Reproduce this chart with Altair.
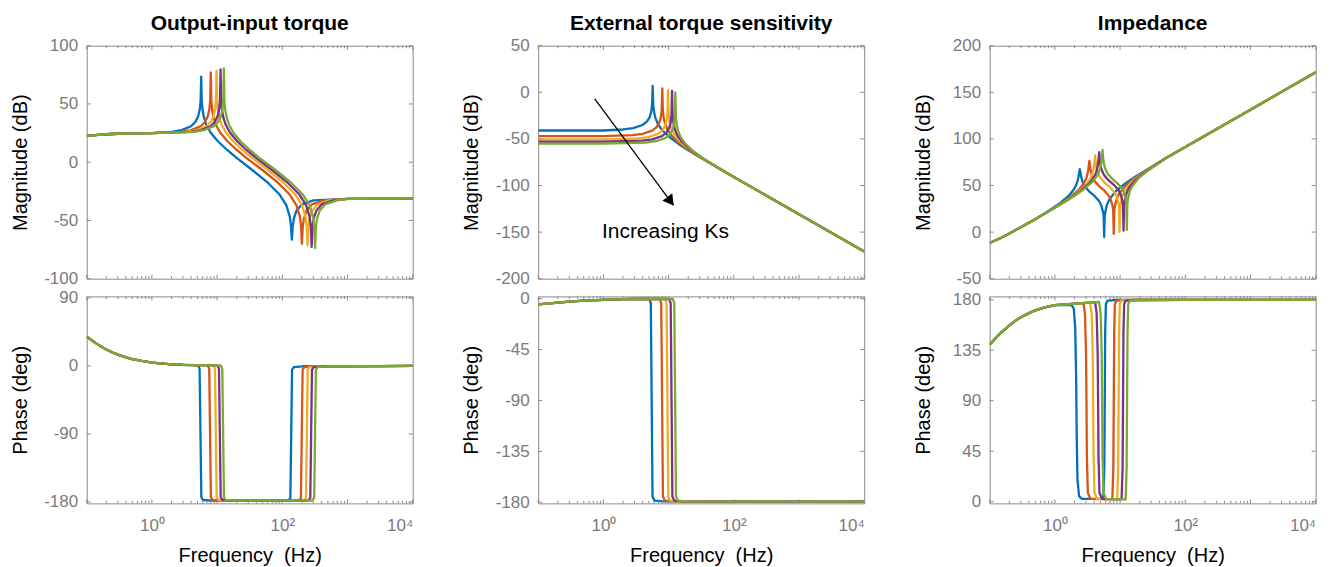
import altair as alt
import pandas as pd

FONT = "Liberation Sans"
FRAME = "#8a8a8a"
LABEL_GRAY = "#7a7a7a"
COLORS = ["#0072BD", "#D95319", "#EDB120", "#7E2F8E", "#77AC30"]
SERIES = ["s1", "s2", "s3", "s4", "s5"]
TITLES = ["Output-input torque", "External torque sensitivity", "Impedance"]
X_LABEL_VALUES = [1, 100, 10000]
X_MAJOR = [0.1, 1, 10, 100, 1000, 10000]
X_MINOR = [m * d for d in (0.1, 1, 10, 100, 1000) for m in range(2, 10)]

# ---------------- Output-input torque : magnitude (dB) ----------------
OI_MAG_LOW_F = [0.1, 0.15, 0.2, 0.3, 0.5, 1.0]
OI_MAG_LOW_DB = [22.6, 23.5, 24.0, 24.4, 24.8, 25.0]
OI_MAG_TAIL_F = [1000, 10000]
OI_MAG_TAIL_DB = [-31.5, -31.3]
OI_MAG_F_1 = [2.0, 2.85, 3.99, 4.67, 5.13, 5.42, 5.59, 5.7, 5.81, 5.99, 6.27, 6.84, 7.98, 10.26, 14.25, 19.95,
              35, 60, 90, 115, 130, 136, 140, 144, 150, 165, 200, 300]
OI_MAG_DB_1 = [26.1, 27.5, 30.9, 34.7, 39.4, 45.2, 53.0, 73.5, 52.9, 44.8, 38.6, 32.1, 25.3, 18.0, 10.5, 3.7,
               -6.9, -17.6, -27.5, -36.9, -46.5, -55.1, -66.5, -55.8, -48.4, -41.6, -36.2, -32.7]
OI_MAG_F_2 = [2.8, 4.0, 5.6, 6.56, 7.2, 7.6, 7.84, 8.0, 8.16, 8.4, 8.8, 9.6, 11.2, 14.4, 20.0, 28.0,
              50, 85.7, 128.6, 164.3, 185.7, 194.3, 200, 205.7, 214.3, 235.7, 285.7, 428.6]
OI_MAG_DB_2 = [26.1, 27.5, 30.9, 34.7, 39.4, 45.2, 53.0, 77.0, 52.9, 44.8, 38.6, 32.1, 25.3, 18.0, 10.5, 3.7,
               -6.9, -17.6, -27.5, -36.9, -46.5, -55.1, -70.0, -55.8, -48.4, -41.6, -36.2, -32.7]
OI_MAG_F_3 = [3.43, 4.9, 6.86, 8.04, 8.82, 9.31, 9.6, 9.8, 10.0, 10.29, 10.78, 11.76, 13.72, 17.64, 24.5, 34.3,
              61, 104.6, 156.9, 200.4, 226.6, 237, 244, 251, 261.4, 287.6, 348.6, 522.9]
OI_MAG_DB_3 = [26.1, 27.5, 30.9, 34.7, 39.4, 45.2, 53.0, 78.6, 52.9, 44.8, 38.6, 32.1, 25.3, 18.0, 10.5, 3.7,
               -6.9, -17.6, -27.5, -36.9, -46.5, -55.1, -71.4, -55.8, -48.4, -41.6, -36.2, -32.7]
OI_MAG_F_4 = [3.96, 5.65, 7.91, 9.27, 10.17, 10.74, 11.07, 11.3, 11.53, 11.87, 12.43, 13.56, 15.82, 20.34, 28.25, 39.55,
              70.5, 120.9, 181.3, 231.6, 261.9, 273.9, 282, 290.1, 302.1, 332.4, 402.9, 604.3]
OI_MAG_DB_4 = [26.1, 27.5, 30.9, 34.7, 39.4, 45.2, 53.0, 79.7, 52.9, 44.8, 38.6, 32.1, 25.3, 18.0, 10.5, 3.7,
               -6.9, -17.6, -27.5, -36.9, -46.5, -55.1, -72.8, -55.8, -48.4, -41.6, -36.2, -32.7]
OI_MAG_F_5 = [4.45, 6.35, 8.89, 10.41, 11.43, 12.07, 12.45, 12.7, 12.95, 13.34, 13.97, 15.24, 17.78, 22.86, 31.75, 44.45,
              79.5, 136.3, 204.4, 261.2, 295.3, 308.9, 318, 327.1, 340.7, 374.8, 454.3, 681.4]
OI_MAG_DB_5 = [26.1, 27.5, 30.9, 34.7, 39.4, 45.2, 53.0, 80.6, 52.9, 44.8, 38.6, 32.1, 25.3, 18.0, 10.5, 3.7,
               -6.9, -17.6, -27.5, -36.9, -46.5, -55.1, -73.7, -55.8, -48.4, -41.6, -36.2, -32.7]

# ---------------- Output-input torque : phase (deg) ----------------
OI_PH_LOW_F = [0.1, 0.12, 0.15, 0.2, 0.25, 0.3, 0.4, 0.5, 0.7, 1.0, 1.5, 2.0, 3.0]
OI_PH_LOW_DEG = [38.6, 33.7, 28.1, 21.8, 17.7, 14.9, 11.3, 9.1, 6.5, 4.4, 2.9, 2.1, 1.4]
OI_PH_TAIL_F = [3000, 10000]
OI_PH_TAIL_DEG = [-0.2, 0.0]
OI_PH_DEG = [0.6, -4, -90, -174, -177.5, -178.3, -178.3, -175, -90, -5, -1.5, -0.5]
OI_PH_F_1 = [5.12, 5.39, 5.56, 5.73, 6.12, 8.34, 123.3, 132.9, 137, 141.1, 150.7, 205.5]
OI_PH_F_2 = [7.18, 7.57, 7.8, 8.03, 8.58, 11.7, 179.1, 193, 199, 205, 218.9, 298.5]
OI_PH_F_3 = [8.8, 9.27, 9.56, 9.85, 10.52, 14.3, 214.2, 230.9, 238, 245.1, 261.8, 357]
OI_PH_F_4 = [10.14, 10.69, 11.02, 11.35, 12.12, 16.5, 249.3, 268.7, 277, 285.3, 304.7, 415.5]
OI_PH_F_5 = [11.39, 12.01, 12.38, 12.75, 13.62, 18.6, 286.2, 308.5, 318, 327.5, 349.8, 477]

# ---------------- External torque sensitivity : magnitude (dB) ----------------
ETS_MAG_TAIL_F = [100, 1000, 10000]
ETS_MAG_TAIL_DB = [-90.9, -130.9, -170.9]
ETS_MAG_F_1 = [0.1, 1.0, 2.0, 2.85, 3.99, 4.67, 5.13, 5.42, 5.59, 5.7, 5.81, 5.99, 6.27, 6.84, 7.98, 10.26, 14.25, 19.95, 28.5]
ETS_MAG_DB_1 = [-41, -41, -39.9, -38.5, -35.1, -31.3, -26.6, -20.8, -13.0, 6.8, -13.1, -21.2, -27.4, -33.9, -40.7, -48.0, -55.4, -62.1, -68.6]
ETS_MAG_F_2 = [0.1, 1.0, 2.8, 4.0, 5.6, 6.56, 7.2, 7.6, 7.84, 8.0, 8.16, 8.4, 8.8, 9.6, 11.2, 14.4, 20.0, 28.0, 40.0]
ETS_MAG_DB_2 = [-47, -47, -45.9, -44.5, -41.1, -37.3, -32.6, -26.8, -19.0, 4.3, -19.1, -27.2, -33.4, -39.9, -46.7, -54.0, -61.4, -68.1, -74.6]
ETS_MAG_F_3 = [0.1, 1.0, 3.43, 4.9, 6.86, 8.04, 8.82, 9.31, 9.6, 9.8, 10.0, 10.29, 10.78, 11.76, 13.72, 17.64, 24.5, 34.3, 49.0]
ETS_MAG_DB_3 = [-50.5, -50.5, -49.4, -48.0, -44.6, -40.8, -36.1, -30.3, -22.5, 2.5, -22.6, -30.7, -36.9, -43.4, -50.2, -57.5, -64.9, -71.6, -78.1]
ETS_MAG_F_4 = [0.1, 1.0, 3.96, 5.65, 7.91, 9.27, 10.17, 10.74, 11.07, 11.3, 11.53, 11.87, 12.43, 13.56, 15.82, 20.34, 28.25, 39.55, 56.5]
ETS_MAG_DB_4 = [-53, -53, -51.9, -50.5, -47.1, -43.3, -38.6, -32.8, -25.0, 1.5, -25.1, -33.2, -39.4, -45.9, -52.7, -60.0, -67.4, -74.1, -80.6]
ETS_MAG_F_5 = [0.1, 1.0, 4.45, 6.35, 8.89, 10.41, 11.43, 12.07, 12.45, 12.7, 12.95, 13.34, 13.97, 15.24, 17.78, 22.86, 31.75, 44.45, 63.5]
ETS_MAG_DB_5 = [-55, -55, -53.9, -52.5, -49.1, -45.3, -40.6, -34.8, -27.0, 0.0, -27.1, -35.2, -41.4, -47.9, -54.7, -62.0, -69.4, -76.1, -82.6]

# ---------------- External torque sensitivity : phase (deg) ----------------
ETS_PH_LOW_F = [0.1, 0.2, 0.3, 0.5, 1.0, 2.0, 3.0]
ETS_PH_LOW_DEG = [-5.0, -3.5, -2.7, -1.8, -1.0, -0.5, -0.3]
ETS_PH_TAIL_F = [10000]
ETS_PH_TAIL_DEG = [-179.5]
ETS_PH_DEG = [-0.2, -4, -90, -175, -178.5, -179.3]
ETS_PH_F_1 = [5.06, 5.34, 5.5, 5.67, 6.05, 8.25]
ETS_PH_F_2 = [7.31, 7.71, 7.95, 8.19, 8.75, 11.9]
ETS_PH_F_3 = [8.83, 9.31, 9.6, 9.89, 10.56, 14.4]
ETS_PH_F_4 = [10.21, 10.77, 11.1, 11.43, 12.21, 16.65]
ETS_PH_F_5 = [11.59, 12.22, 12.6, 12.98, 13.86, 18.9]

# ---------------- Impedance : magnitude (dB) ----------------
IMP_MAG_LOW_F = [0.1, 0.15, 0.2, 0.3, 0.5]
IMP_MAG_LOW_DB = [-11.7, -6.0, -1.5, 5.2, 13.9]
IMP_MAG_TAIL_F = [50, 100, 1000, 10000]
IMP_MAG_TAIL_DB = [79.2, 91.3, 131.4, 171.4]
IMP_MAG_F_1 = [0.723, 1.2, 1.687, 1.976, 2.169, 2.29, 2.362, 2.41, 2.458, 2.53, 2.651, 2.892, 3.374, 4.097, 4.82,
               5.13, 5.415, 5.586, 5.7, 5.814, 5.985, 6.27, 6.84, 8.55, 11.4, 17.1]
IMP_MAG_DB_1 = [20.8, 31.1, 40.0, 46.2, 52.2, 58.3, 64.3, 67.6, 64.5, 59.2, 54.1, 48.8, 43.5, 38.5, 32.7,
                28.8, 23.0, 17.9, -5.3, 17.7, 22.9, 29.0, 35.1, 43.7, 51.0, 59.3]
IMP_MAG_F_2 = [1.015, 1.684, 2.368, 2.773, 3.044, 3.214, 3.315, 3.382, 3.45, 3.551, 3.721, 4.059, 4.735, 5.75, 6.765,
               7.2, 7.6, 7.84, 8.0, 8.16, 8.4, 8.8, 9.6, 12.0, 16.0, 24.0]
IMP_MAG_DB_2 = [26.7, 37.0, 45.9, 52.1, 58.1, 64.5, 71.5, 76.5, 71.5, 65.4, 60.0, 54.7, 49.4, 44.4, 38.6,
                34.7, 28.9, 23.6, -2.0, 23.5, 28.8, 34.9, 41.0, 49.6, 56.9, 65.2]
IMP_MAG_F_3 = [1.243, 2.063, 2.9, 3.397, 3.729, 3.937, 4.061, 4.143, 4.226, 4.35, 4.558, 4.972, 5.801, 7.044, 8.287,
               8.82, 9.31, 9.6, 9.8, 10.0, 10.29, 10.78, 11.76, 14.7, 19.6, 29.4]
IMP_MAG_DB_3 = [30.2, 40.5, 49.4, 55.6, 61.6, 68.5, 75.5, 82.2, 75.5, 69.0, 63.5, 58.2, 52.9, 47.9, 42.1,
                38.2, 32.4, 27.0, 0.0, 27.0, 32.3, 38.4, 44.5, 53.1, 60.4, 68.7]
IMP_MAG_F_4 = [1.433, 2.379, 3.344, 3.917, 4.3, 4.54, 4.683, 4.778, 4.873, 5.016, 5.256, 5.733, 6.689, 8.122, 9.556,
               10.17, 10.74, 11.07, 11.3, 11.53, 11.87, 12.43, 13.56, 16.95, 22.6, 33.9]
IMP_MAG_DB_4 = [32.7, 43.0, 51.9, 58.1, 64.1, 71.0, 78.5, 85.7, 78.5, 71.5, 66.0, 60.7, 55.4, 50.4, 44.6,
                40.7, 34.9, 29.5, 1.5, 29.5, 34.8, 40.9, 47.0, 55.6, 62.9, 71.2]
IMP_MAG_F_5 = [1.611, 2.674, 3.759, 4.403, 4.833, 5.102, 5.263, 5.37, 5.477, 5.637, 5.907, 6.444, 7.518, 9.129, 10.74,
               11.43, 12.07, 12.45, 12.7, 12.95, 13.34, 13.97, 15.24, 19.05, 25.4, 38.1]
IMP_MAG_DB_5 = [34.7, 45.0, 53.9, 60.1, 66.1, 73.0, 80.5, 88.2, 80.5, 73.5, 68.0, 62.7, 57.4, 52.4, 46.6,
                42.7, 36.9, 31.5, 2.5, 31.5, 36.8, 42.9, 49.0, 57.6, 64.9, 73.2]

# ---------------- Impedance : phase (deg) ----------------
IMP_PH_LOW_F = [0.1, 0.12, 0.15, 0.2, 0.25, 0.3, 0.4, 0.5, 0.7, 1.0]
IMP_PH_LOW_DEG = [140, 145, 150.8, 157.2, 161.4, 164.4, 168.1, 170.5, 173.2, 175.2]
IMP_PH_TAIL_F = [100, 10000]
IMP_PH_TAIL_DEG = [179.9, 179.9]
IMP_PH_F_1 = [1.8, 1.95, 2.05, 2.12, 2.16, 2.22, 2.35, 2.6, 5.53, 5.733, 5.82, 5.907, 6.053, 6.402, 8.73]
IMP_PH_DEG_1 = [175.5, 172, 155, 110, 60, 20, 5, 2.5, 2.5, 30, 90, 150, 176, 179.3, 179.8]
IMP_PH_F_2 = [2.745, 2.898, 3.004, 3.05, 3.096, 3.203, 3.508, 7.6, 7.88, 8.0, 8.12, 8.32, 8.8, 12.0]
IMP_PH_DEG_2 = [177, 167, 132, 90, 40, 8, 2.5, 2, 30, 90, 150, 176, 179.3, 179.8]
IMP_PH_F_3 = [3.474, 3.667, 3.802, 3.86, 3.918, 4.053, 4.439, 9.025, 9.358, 9.5, 9.643, 9.88, 10.45, 14.25]
IMP_PH_DEG_3 = [177.5, 167.5, 132.5, 90, 40, 8, 2.5, 2, 30, 90, 150, 176, 179.3, 179.8]
IMP_PH_F_4 = [4.14, 4.37, 4.531, 4.6, 4.669, 4.83, 5.29, 10.545, 10.934, 11.1, 11.267, 11.544, 12.21, 16.65]
IMP_PH_DEG_4 = [177.8, 167.8, 132.8, 90, 40, 8, 2.5, 2, 30, 90, 150, 176, 179.3, 179.8]
IMP_PH_F_5 = [4.77, 5.035, 5.221, 5.3, 5.38, 5.565, 6.095, 12.16, 12.608, 12.8, 12.992, 13.312, 14.08, 19.2]
IMP_PH_DEG_5 = [178, 168, 133, 90, 40, 8, 2.5, 2, 30, 90, 150, 176, 179.3, 179.8]

# ---------------- annotation (External torque sensitivity) ----------------
ARROW_F = [0.738, 11.9]
ARROW_DB = [-7.1, -121.4]
ARROW_HEAD = [10.7, -116.9]
NOTE_TEXT = "Increasing Ks"
NOTE_POS = [8.95, -150.0]


def frame(parts):
    rows = []
    for s, fs, vs in parts:
        for f, v in zip(fs, vs):
            rows.append({"s": s, "f": f, "v": v})
    return pd.DataFrame(rows)


def build(low_f, low_v, series, tail_f, tail_v):
    parts = []
    for s, (fs, vs) in zip(SERIES, series):
        parts.append((s, list(low_f) + list(fs) + list(tail_f), list(low_v) + list(vs) + list(tail_v)))
    return frame(parts)


oi_mag = build(OI_MAG_LOW_F, OI_MAG_LOW_DB,
               [(OI_MAG_F_1, OI_MAG_DB_1), (OI_MAG_F_2, OI_MAG_DB_2), (OI_MAG_F_3, OI_MAG_DB_3),
                (OI_MAG_F_4, OI_MAG_DB_4), (OI_MAG_F_5, OI_MAG_DB_5)],
               OI_MAG_TAIL_F, OI_MAG_TAIL_DB)
oi_ph = build(OI_PH_LOW_F, OI_PH_LOW_DEG,
              [(OI_PH_F_1, OI_PH_DEG), (OI_PH_F_2, OI_PH_DEG), (OI_PH_F_3, OI_PH_DEG),
               (OI_PH_F_4, OI_PH_DEG), (OI_PH_F_5, OI_PH_DEG)],
              OI_PH_TAIL_F, OI_PH_TAIL_DEG)
ets_mag = build([], [],
                [(ETS_MAG_F_1, ETS_MAG_DB_1), (ETS_MAG_F_2, ETS_MAG_DB_2), (ETS_MAG_F_3, ETS_MAG_DB_3),
                 (ETS_MAG_F_4, ETS_MAG_DB_4), (ETS_MAG_F_5, ETS_MAG_DB_5)],
                ETS_MAG_TAIL_F, ETS_MAG_TAIL_DB)
ets_ph = build(ETS_PH_LOW_F, ETS_PH_LOW_DEG,
               [(ETS_PH_F_1, ETS_PH_DEG), (ETS_PH_F_2, ETS_PH_DEG), (ETS_PH_F_3, ETS_PH_DEG),
                (ETS_PH_F_4, ETS_PH_DEG), (ETS_PH_F_5, ETS_PH_DEG)],
               ETS_PH_TAIL_F, ETS_PH_TAIL_DEG)
imp_mag = build(IMP_MAG_LOW_F, IMP_MAG_LOW_DB,
                [(IMP_MAG_F_1, IMP_MAG_DB_1), (IMP_MAG_F_2, IMP_MAG_DB_2), (IMP_MAG_F_3, IMP_MAG_DB_3),
                 (IMP_MAG_F_4, IMP_MAG_DB_4), (IMP_MAG_F_5, IMP_MAG_DB_5)],
                IMP_MAG_TAIL_F, IMP_MAG_TAIL_DB)
imp_ph = build(IMP_PH_LOW_F, IMP_PH_LOW_DEG,
               [(IMP_PH_F_1, IMP_PH_DEG_1), (IMP_PH_F_2, IMP_PH_DEG_2), (IMP_PH_F_3, IMP_PH_DEG_3),
                (IMP_PH_F_4, IMP_PH_DEG_4), (IMP_PH_F_5, IMP_PH_DEG_5)],
               IMP_PH_TAIL_F, IMP_PH_TAIL_DEG)

W = 326
H_MAG = 233
H_PH = 207
TICK_MAJOR = 4
TICK_MINOR = 2.5

X_LABEL_EXPR = "datum.value == 1 ? '10\u2070' : datum.value == 100 ? '10\u00b2' : '10\u2074'"
Y_LABEL_EXPR = "datum.value < 0 ? '-' + abs(datum.value) : '' + datum.value"


def annotation(xscale, xaxis, yscale, yaxis):
    arrow_df = pd.DataFrame({"f": [ARROW_F[0]], "f2": [ARROW_F[1]], "v": [ARROW_DB[0]], "v2": [ARROW_DB[1]]})
    arrow_line = alt.Chart(arrow_df).mark_rule(color="black", strokeWidth=1.3).encode(
        x=alt.X("f:Q", scale=xscale, axis=xaxis), x2="f2:Q",
        y=alt.Y("v:Q", scale=yscale, axis=yaxis), y2="v2:Q")
    head_df = pd.DataFrame({"f": [ARROW_HEAD[0]], "v": [ARROW_HEAD[1]]})
    arrow_head = alt.Chart(head_df).mark_point(shape="triangle-up", filled=True, size=150, angle=143.5,
                                               color="black", opacity=1).encode(
        x=alt.X("f:Q", scale=xscale, axis=xaxis), y=alt.Y("v:Q", scale=yscale, axis=yaxis))
    note_df = pd.DataFrame({"f": [NOTE_POS[0]], "v": [NOTE_POS[1]], "t": [NOTE_TEXT]})
    note = alt.Chart(note_df).mark_text(font=FONT, fontSize=21, color="black", align="center",
                                        baseline="middle").encode(
        x=alt.X("f:Q", scale=xscale, axis=xaxis), y=alt.Y("v:Q", scale=yscale, axis=yaxis), text="t:N")
    return [arrow_line, arrow_head, note]


def panel(df, ydom, yvals, ytitle, h, bottom, title=None, extra=None):
    xscale = alt.Scale(type="log", domain=[0.1, 10000], nice=False)
    yscale = alt.Scale(domain=ydom, nice=False, zero=False)
    if bottom:
        xaxis = alt.Axis(values=X_LABEL_VALUES, labelExpr=X_LABEL_EXPR, ticks=False, domain=False, grid=False,
                         labelPadding=14, labelFontSize=17, title="Frequency\u00a0 (Hz)",
                         titleX=W / 2, titleY=52, titleAlign="center", titleBaseline="middle")
    else:
        xaxis = None
    yaxis = alt.Axis(values=yvals, labelExpr=Y_LABEL_EXPR, ticks=False, domain=False, grid=False,
                     labelPadding=9, title=ytitle, titleX=-66.5, titleY=h / 2, titleAngle=270,
                     titleAlign="center", titleBaseline="middle")
    lines = alt.Chart(df).mark_line(strokeWidth=2.3, strokeJoin="round", clip=True).encode(
        x=alt.X("f:Q", scale=xscale, axis=xaxis),
        y=alt.Y("v:Q", scale=yscale, axis=yaxis),
        color=alt.Color("s:N", scale=alt.Scale(domain=SERIES, range=COLORS), legend=None),
        detail="s:N",
    )
    xmaj = pd.DataFrame({"f": X_MAJOR})
    xmin = pd.DataFrame({"f": X_MINOR})
    ydf = pd.DataFrame({"v": yvals})
    rule = dict(color=FRAME, strokeWidth=1)
    layers = [lines]
    for d, L in ((xmaj, TICK_MAJOR), (xmin, TICK_MINOR)):
        layers.append(alt.Chart(d).mark_rule(**rule).encode(
            x=alt.X("f:Q", scale=xscale, axis=xaxis), y=alt.value(h), y2=alt.value(h - L)))
        layers.append(alt.Chart(d).mark_rule(**rule).encode(
            x=alt.X("f:Q", scale=xscale, axis=xaxis), y=alt.value(0), y2=alt.value(L)))
    layers.append(alt.Chart(ydf).mark_rule(**rule).encode(
        y=alt.Y("v:Q", scale=yscale, axis=yaxis), x=alt.value(0), x2=alt.value(TICK_MAJOR)))
    layers.append(alt.Chart(ydf).mark_rule(**rule).encode(
        y=alt.Y("v:Q", scale=yscale, axis=yaxis), x=alt.value(W - TICK_MAJOR), x2=alt.value(W)))
    if extra is not None:
        layers.extend(extra(xscale, xaxis, yscale, yaxis))
    if title:
        tdf = pd.DataFrame({"t": [title]})
        layers.append(alt.Chart(tdf).mark_text(font=FONT, fontSize=21, fontWeight="bold", color="black",
                                               align="center", baseline="alphabetic").encode(
            text="t:N", x=alt.value(W / 2), y=alt.value(-15.7)))
    return alt.layer(*layers).properties(width=W, height=h)


p11 = panel(oi_mag, [-100, 100], [-100, -50, 0, 50, 100], "Magnitude (dB)", H_MAG, False, TITLES[0])
p12 = panel(oi_ph, [-182, 92], [-180, -90, 0, 90], "Phase (deg)", H_PH, True)
p21 = panel(ets_mag, [-200, 50], [-200, -150, -100, -50, 0, 50], "Magnitude (dB)", H_MAG, False, TITLES[1],
            extra=annotation)
p22 = panel(ets_ph, [-181, 2], [-180, -135, -90, -45, 0], "Phase (deg)", H_PH, True)
p31 = panel(imp_mag, [-50, 200], [-50, 0, 50, 100, 150, 200], "Magnitude (dB)", H_MAG, False, TITLES[2])
p32 = panel(imp_ph, [-1.5, 183], [0, 45, 90, 135, 180], "Phase (deg)", H_PH, True)

col1 = alt.vconcat(p11, p12, spacing=17.7, bounds="flush")
col2 = alt.vconcat(p21, p22, spacing=17.7, bounds="flush")
col3 = alt.vconcat(p31, p32, spacing=17.7, bounds="flush")
chart = alt.hconcat(col1, col2, col3, spacing=47.5).properties(
    padding={"left": 9.7, "top": 11.7, "right": 5, "bottom": 5}
).configure_view(stroke=FRAME, strokeWidth=1).configure_axis(
    labelFont=FONT, labelFontSize=17, labelColor=LABEL_GRAY,
    titleFont=FONT, titleFontSize=20, titleColor="black", titleFontWeight="normal"
)

chart.save("out.html", embed_options={"renderer": "svg", "actions": False})
